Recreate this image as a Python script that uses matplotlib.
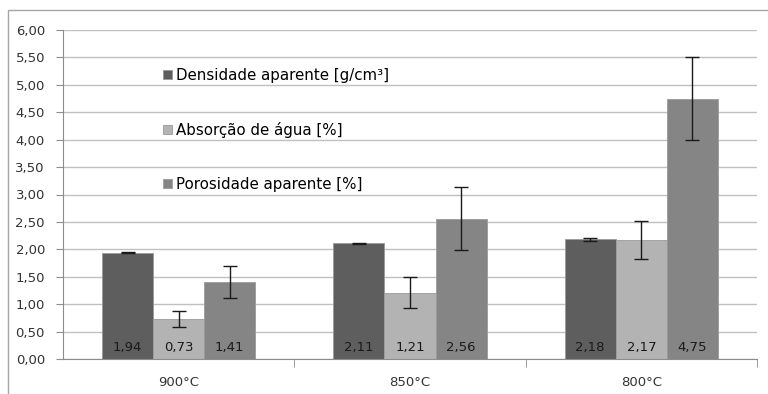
import numpy as np
import matplotlib.pyplot as plt
from matplotlib.patches import Rectangle

categorias = ['900°C', '850°C', '800°C']
densidade = [1.94, 2.11, 2.18]
absorcao = [0.73, 1.21, 2.17]
porosidade = [1.41, 2.56, 4.75]
err_densidade = [0.01, 0.01, 0.02]
err_absorcao = [0.15, 0.28, 0.35]
err_porosidade = [0.29, 0.57, 0.76]

series = [
    ('Densidade aparente [g/cm³]', densidade, err_densidade, '#5e5e5e'),
    ('Absorção de água [%]', absorcao, err_absorcao, '#b3b3b3'),
    ('Porosidade aparente [%]', porosidade, err_porosidade, '#858585'),
]

def fmt(v):
    return ('%.2f' % v).replace('.', ',')

def main():
    plt.rcParams['font.family'] = ['DejaVu Sans']
    fig = plt.figure(figsize=(7.68, 3.94), dpi=100)
    fig.patches.append(Rectangle((8 / 768, -0.1), 1.2, 1 - 10 / 394 + 0.1,
                                 transform=fig.transFigure, fill=False,
                                 edgecolor='#a6a6a6', linewidth=1))
    ax = fig.add_axes([63 / 768, 35 / 394, 694 / 768, 329 / 394])

    x = np.arange(len(categorias))
    w = 0.221
    for i, (nome, vals, errs, cor) in enumerate(series):
        pos = x + (i - 1) * w
        ax.bar(pos, vals, w, color=cor, edgecolor='#9a9a9a', linewidth=0.6,
               label=nome, zorder=2,
               yerr=errs, error_kw=dict(ecolor='#1a1a1a', elinewidth=1,
                                        capsize=5, capthick=1))
        for p, v in zip(pos, vals):
            ax.text(p, 0.09, fmt(v), ha='center', va='bottom', fontsize=9.5,
                    color='#1a1a1a', zorder=3)

    ax.set_xlim(-0.5, 2.5)
    ax.set_ylim(0, 6)
    ax.set_yticks(np.arange(0, 6.01, 0.5))
    ax.set_yticklabels([fmt(v) for v in np.arange(0, 6.01, 0.5)],
                       fontsize=9.5, color='#333333')
    ax.set_xticks(x)
    ax.set_xticklabels(categorias, fontsize=9.5, color='#333333')
    ax.set_xticks([0.5, 1.5, 2.5], minor=True)
    ax.tick_params(axis='x', which='major', length=0, pad=12)
    ax.tick_params(axis='x', which='minor', length=6, color='#8c8c8c')
    ax.tick_params(axis='y', length=5, color='#8c8c8c', pad=8)
    ax.grid(axis='y', color='#c0c0c0', linewidth=1, zorder=0)
    ax.set_axisbelow(True)
    for s in ['top', 'right']:
        ax.spines[s].set_visible(False)
    for s in ['left', 'bottom']:
        ax.spines[s].set_color('#8c8c8c')

    ax.legend(loc='upper left', bbox_to_anchor=(0.135, 0.903), frameon=False,
              fontsize=10.8, labelspacing=2.6, handlelength=0.6,
              handleheight=0.6, handletextpad=0.3, borderaxespad=0)

    fig.savefig('out.png', dpi=100)

if __name__ == '__main__':
    main()
